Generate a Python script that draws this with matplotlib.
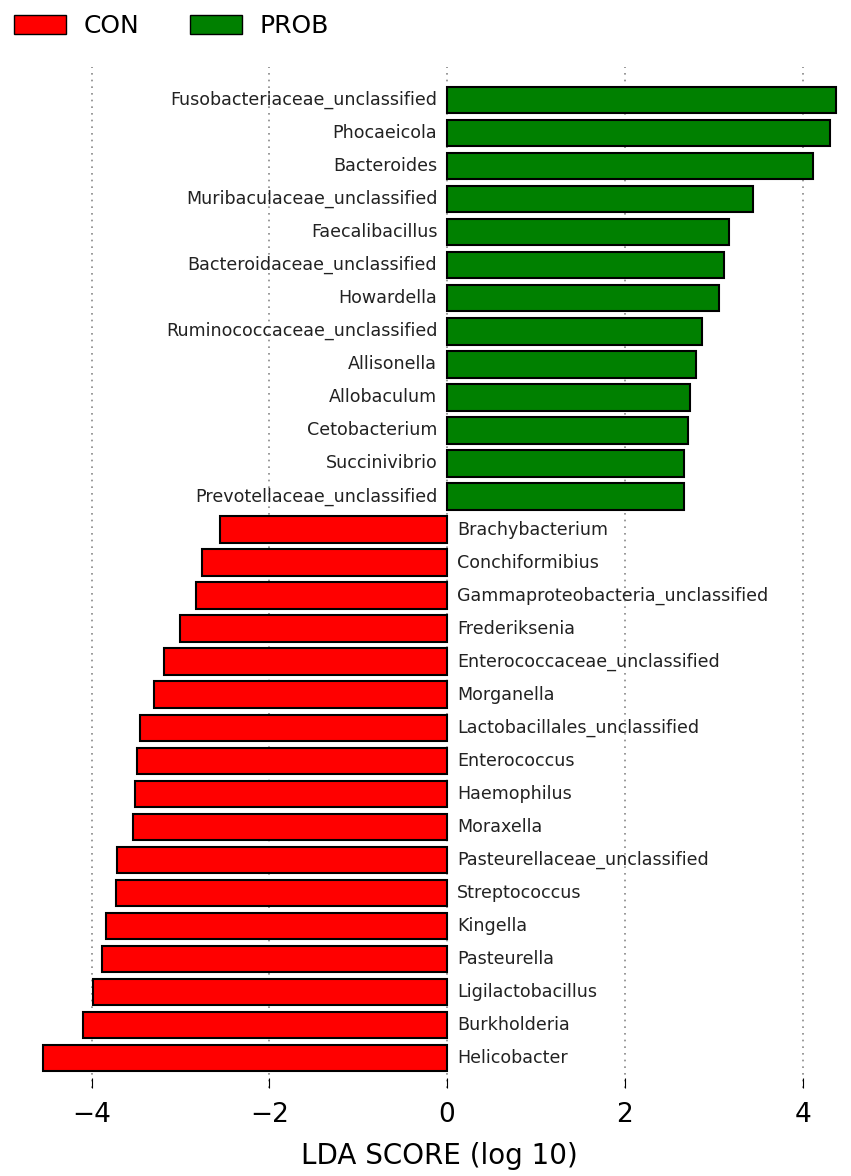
import matplotlib.pyplot as plt
from matplotlib.patches import Patch

# LEfSe LDA scores, drawn bottom -> top
con_taxa = ['Helicobacter', 'Burkholderia', 'Ligilactobacillus', 'Pasteurella', 'Kingella',
            'Streptococcus', 'Pasteurellaceae_unclassified', 'Moraxella', 'Haemophilus',
            'Enterococcus', 'Lactobacillales_unclassified', 'Morganella',
            'Enterococcaceae_unclassified', 'Frederiksenia',
            'Gammaproteobacteria_unclassified', 'Conchiformibius', 'Brachybacterium']
con_lda = [-4.55, -4.10, -3.98, -3.88, -3.84, -3.73, -3.72, -3.53, -3.51,
           -3.49, -3.45, -3.30, -3.18, -3.00, -2.83, -2.76, -2.56]

prob_taxa = ['Prevotellaceae_unclassified', 'Succinivibrio', 'Cetobacterium', 'Allobaculum',
             'Allisonella', 'Ruminococcaceae_unclassified', 'Howardella',
             'Bacteroidaceae_unclassified', 'Faecalibacillus', 'Muribaculaceae_unclassified',
             'Bacteroides', 'Phocaeicola', 'Fusobacteriaceae_unclassified']
prob_lda = [2.66, 2.66, 2.71, 2.73, 2.80, 2.87, 3.06, 3.11, 3.17, 3.44, 4.12, 4.31, 4.38]

ticks = [-4, -2, 0, 2, 4]

taxa = con_taxa + prob_taxa
scores = con_lda + prob_lda
colors = ['#ff0000'] * len(con_lda) + ['#008000'] * len(prob_lda)

fig = plt.figure(figsize=(8.51, 11.76), dpi=100)
ax = fig.add_axes([0.045, 0.075, 0.942, 0.868])

ypos = list(range(len(taxa)))
ax.barh(ypos, scores, height=0.8, color=colors, edgecolor='black', linewidth=1.5, zorder=2)

for y, name, s in zip(ypos, taxa, scores):
    if s < 0:
        ax.text(0.11, y, name, ha='left', va='center', fontsize=12.6, color='#222222')
    else:
        ax.text(-0.11, y, name, ha='right', va='center', fontsize=12.6, color='#222222')

ax.set_xlim(-4.6, 4.42)
ax.set_ylim(-0.9, len(taxa))
ax.set_xticks(ticks)
ax.set_xticklabels(['\u2212%d' % abs(t) if t < 0 else str(t) for t in ticks])
ax.set_yticks([])
ax.tick_params(axis='x', direction='in', length=7, labelsize=19, pad=10)
ax.grid(axis='x', linestyle=(0, (1, 3)), color='#888888', linewidth=1.2, zorder=0)
for sp in ax.spines.values():
    sp.set_visible(False)
ax.set_xlabel('LDA SCORE (log 10)', fontsize=20, labelpad=10)

handles = [Patch(facecolor='#ff0000', edgecolor='black', label='CON'),
           Patch(facecolor='#008000', edgecolor='black', label='PROB')]
fig.legend(handles=handles, loc='upper left', bbox_to_anchor=(0.0, 1.0), ncol=2,
           frameon=False, fontsize=18, handlelength=2.1, handleheight=0.8,
           handletextpad=0.7, columnspacing=2.0, borderaxespad=0.15)

fig.savefig('out.png', dpi=100)
